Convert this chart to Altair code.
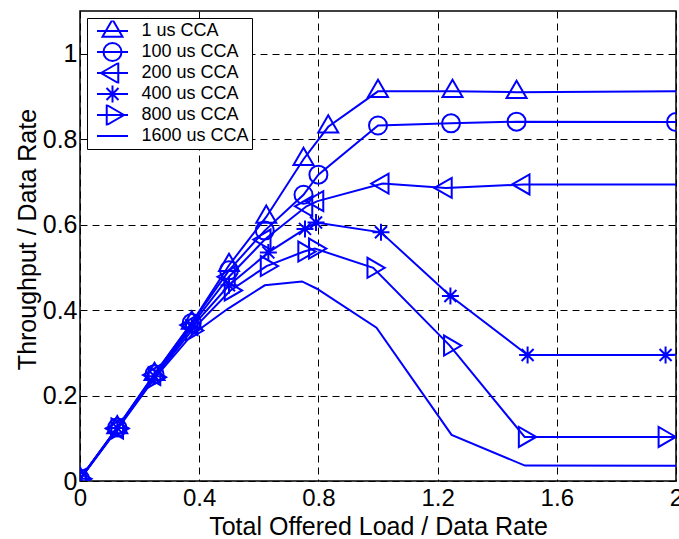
import altair as alt
import pandas as pd

# Curve names (legend order)
curves = ["1 us CCA", "100 us CCA", "200 us CCA", "400 us CCA", "800 us CCA", "1600 us CCA"]

# Offered load (x) and normalised throughput (y) for each CCA duration
load_1us = [0, 0.125, 0.25, 0.375, 0.5, 0.625, 0.75, 0.833, 1.0, 1.25, 1.465, 2.4]
tput_1us = [0.005, 0.125, 0.25, 0.37, 0.505, 0.618, 0.753, 0.829, 0.912, 0.912, 0.910, 0.914]

load_100us = [0, 0.125, 0.25, 0.375, 0.5, 0.62, 0.75, 0.8, 1.0, 1.245, 1.465, 2.0]
tput_100us = [0.005, 0.125, 0.25, 0.37, 0.493, 0.586, 0.67, 0.717, 0.832, 0.837, 0.841, 0.840]

load_200us = [0, 0.125, 0.25, 0.375, 0.5, 0.62, 0.76, 0.797, 1.016, 1.228, 1.489, 2.4]
tput_200us = [0.005, 0.123, 0.248, 0.365, 0.478, 0.565, 0.643, 0.655, 0.696, 0.686, 0.694, 0.694]

load_400us = [0, 0.125, 0.25, 0.375, 0.5, 0.632, 0.755, 0.792, 1.01, 1.243, 1.502, 1.965, 2.4]
tput_400us = [0.005, 0.124, 0.245, 0.36, 0.458, 0.535, 0.59, 0.605, 0.582, 0.433, 0.295, 0.295, 0.298]

load_800us = [0, 0.125, 0.25, 0.375, 0.505, 0.626, 0.752, 0.788, 0.984, 1.241, 1.492, 1.961, 2.4]
tput_800us = [0.005, 0.123, 0.243, 0.352, 0.446, 0.503, 0.537, 0.544, 0.499, 0.317, 0.103, 0.103, 0.103]

load_1600us = [0, 0.125, 0.25, 0.375, 0.496, 0.62, 0.745, 0.795, 0.995, 1.247, 1.493, 2.4]
tput_1600us = [0.004, 0.121, 0.24, 0.342, 0.403, 0.458, 0.467, 0.45, 0.359, 0.108, 0.036, 0.035]

x_ticks = [0, 0.4, 0.8, 1.2, 1.6, 2]
y_ticks = [0, 0.2, 0.4, 0.6, 0.8, 1]

# Marker outlines (unit-square SVG paths, triangles centred on their centroid)
marker_paths = [
    "M0,-1.155L1,0.577L-1,0.577Z",                                   # triangle up
    "M0.9,0A0.9,0.9,0,1,1,-0.9,0A0.9,0.9,0,1,1,0.9,0Z",            # circle
    "M-1.155,0L0.577,-1L0.577,1Z",                                   # triangle left
    "M-0.85,0L0.85,0M0,-0.85L0,0.85M-0.6,-0.6L0.6,0.6M-0.6,0.6L0.6,-0.6",  # asterisk
    "M1.155,0L-0.577,-1L-0.577,1Z",                                  # triangle right
    "M0,0L0,0",                                                      # line only
]

series = [
    (curves[0], load_1us, tput_1us),
    (curves[1], load_100us, tput_100us),
    (curves[2], load_200us, tput_200us),
    (curves[3], load_400us, tput_400us),
    (curves[4], load_800us, tput_800us),
    (curves[5], load_1600us, tput_1600us),
]
frames = []
for name, xs, ys in series:
    frames.append(pd.DataFrame({"load": xs, "tput": ys, "curve": name, "curve_marker": name}))
df = pd.concat(frames, ignore_index=True)

BLUE = "#0000ff"
FONT = "Liberation Sans"

x_enc = alt.X(
    "load:Q",
    scale=alt.Scale(domain=[0, 2], nice=False, zero=False),
    axis=alt.Axis(
        values=x_ticks, format="~g", title="Total Offered Load / Data Rate",
        grid=True, gridDash=[7, 5], gridColor="black", gridWidth=1,
        domain=False, ticks=False, labelFlush=False, labelPadding=5,
        labelFont=FONT, labelFontSize=24, labelColor="black",
        titleFont=FONT, titleFontSize=25, titleFontWeight="normal", titleColor="black",
        titleBaseline="alphabetic", titleY=53,
    ),
)
y_enc = alt.Y(
    "tput:Q",
    scale=alt.Scale(domain=[0, 1.1], nice=False),
    axis=alt.Axis(
        values=y_ticks, format="~g", title="Throughput / Data Rate",
        grid=True, gridDash=[7, 5], gridColor="black", gridWidth=1,
        domain=False, ticks=False, labelFlush=False, labelPadding=3,
        labelFont=FONT, labelFontSize=25, labelColor="black",
        titleFont=FONT, titleFontSize=25, titleFontWeight="normal", titleColor="black",
        titleBaseline="alphabetic", titleX=-45, titleY=228,
    ),
)

common_legend = dict(
    orient="none", legendX=7, legendY=7, padding=2.5, clipHeight=21,
    rowPadding=0, title=None, labelFont=FONT, labelFontSize=18, labelColor="black",
)

# Line legend: black-bordered box with a stroke sample and the curve name
lines = alt.Chart(df).mark_line(strokeWidth=2, clip=True).encode(
    x=x_enc,
    y=y_enc,
    color=alt.Color(
        "curve:N",
        scale=alt.Scale(domain=curves, range=[BLUE] * len(curves)),
        legend=alt.Legend(
            symbolType="stroke", symbolSize=961, symbolStrokeWidth=2,
            symbolOffset=6.5, labelOffset=12.5,
            strokeColor="black", fillColor="white", **common_legend,
        ),
    ),
)

# Marker legend sits on top of the line legend, so each entry shows line + marker
markers = alt.Chart(df).mark_point(
    filled=False, strokeWidth=2, size=400, color=BLUE, clip=True, opacity=1
).encode(
    x=x_enc,
    y=y_enc,
    shape=alt.Shape(
        "curve_marker:N",
        sort=curves,
        scale=alt.Scale(range=marker_paths),
        legend=alt.Legend(
            symbolSize=400, symbolStrokeWidth=2, symbolOffset=12,
            symbolStrokeColor=BLUE, symbolFillColor="transparent",
            labelOffset=12.5, labelExpr="''", **common_legend,
        ),
    ),
)

chart = (
    alt.layer(lines, markers)
    .properties(
        width=596, height=470,
        padding={"left": 80, "top": 11, "right": 3, "bottom": 58},
        autosize=alt.AutoSizeParams(type="none"),
        background="white",
    )
    .configure_view(stroke="black", strokeWidth=1.5)
)

chart.save("out.html", embed_options={"renderer": "svg", "actions": False})
